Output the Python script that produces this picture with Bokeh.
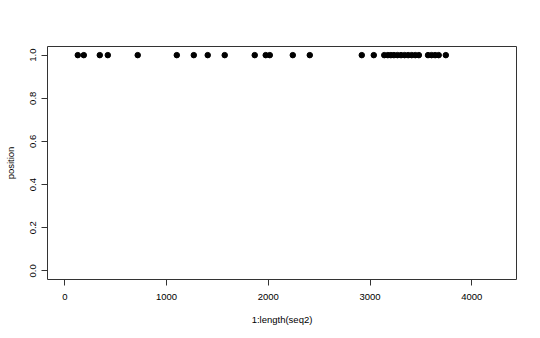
from bokeh.plotting import figure
from bokeh.models import Range1d, FixedTicker, PrintfTickFormatter, ColumnDataSource
from bokeh.embed import file_html
from bokeh.resources import INLINE

# data
seq_len = 4269
index_vals = [128, 187, 344, 423, 717, 1101, 1268, 1405, 1572, 1867, 1975, 2015,
              2241, 2408, 2919, 3037, 3140, 3175, 3205, 3235, 3270, 3305, 3340,
              3375, 3410, 3445, 3480, 3570, 3605, 3640, 3675, 3745]
position_vals = [1.0] * len(index_vals)
x_ticks = [0, 1000, 2000, 3000, 4000]
y_ticks = [0.0, 0.2, 0.4, 0.6, 0.8, 1.0]

pad_x = 0.04 * (seq_len - 1)
p = figure(width=540, height=338, output_backend="svg", toolbar_location=None,
           x_range=Range1d(1 - pad_x, seq_len + pad_x),
           y_range=Range1d(-0.04, 1.04),
           min_border_left=47, min_border_right=24, min_border_top=46, min_border_bottom=59)
p.background_fill_color = "white"
p.border_fill_color = "white"
p.outline_line_color = "#333333"
p.outline_line_width = 1
p.grid.visible = False

src = ColumnDataSource(dict(x=index_vals, y=position_vals))
p.scatter("x", "y", source=src, size=5.5, color="black")

font = "Liberation Sans"
for ax in (p.xaxis[0], p.yaxis[0]):
    ax.axis_line_color = None
    ax.major_tick_in = 0
    ax.major_tick_out = 6
    ax.major_tick_line_color = "#333333"
    ax.minor_tick_line_color = None
    ax.major_label_text_font = font
    ax.major_label_text_font_size = "9.5px"
    ax.major_label_text_color = "black"
    ax.axis_label_text_font = font
    ax.axis_label_text_font_size = "9.5px"
    ax.axis_label_text_font_style = "normal"
    ax.axis_label_text_color = "black"

p.xaxis.ticker = FixedTicker(ticks=x_ticks)
p.xaxis.axis_label = "1:length(seq2)"
p.xaxis.major_label_standoff = 8
p.xaxis.axis_label_standoff = 11

p.yaxis.ticker = FixedTicker(ticks=y_ticks)
p.yaxis.formatter = PrintfTickFormatter(format="%.1f")
p.yaxis.major_label_orientation = "vertical"
p.yaxis.axis_label = "position"
p.yaxis.major_label_standoff = 5
p.yaxis.axis_label_standoff = 12

open("out.html", "w").write(file_html(p, INLINE))
